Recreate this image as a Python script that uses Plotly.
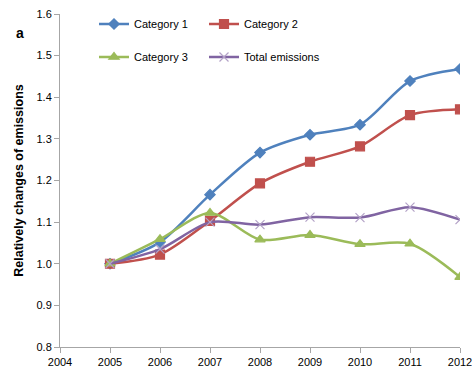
import plotly.graph_objects as go

years = [2005, 2006, 2007, 2008, 2009, 2010, 2011, 2012]
category_1 = [1.000, 1.052, 1.166, 1.267, 1.310, 1.334, 1.439, 1.468]
category_2 = [1.000, 1.022, 1.103, 1.193, 1.245, 1.282, 1.357, 1.371]
category_3 = [1.000, 1.059, 1.122, 1.058, 1.069, 1.047, 1.048, 0.968]
total_emissions = [1.000, 1.035, 1.100, 1.094, 1.112, 1.111, 1.136, 1.106]

# name, values, line colour, marker symbol, marker size, marker colour, legend id
series = [
    ("Category 1", category_1, "#4F81BD", "diamond", 8, "#4F81BD", "legend"),
    ("Category 2", category_2, "#C0504D", "square", 9, "#C0504D", "legend2"),
    ("Category 3", category_3, "#9BBB59", "triangle-up", 9, "#9BBB59", "legend3"),
    ("Total emissions", total_emissions, "#8064A2", "x-thin", 9, "#B3A2C7", "legend4"),
]

fig = go.Figure()
for name, vals, color, symbol, size, mcolor, leg in series:
    fig.add_trace(go.Scatter(
        x=years, y=vals, name=name, mode="lines+markers",
        line=dict(color=color, width=2.5, shape="spline", smoothing=0.8),
        marker=dict(symbol=symbol, size=size, color=mcolor,
                    line=dict(color=mcolor, width=1.2)),
        legend=leg, showlegend=True,
    ))

FAMILY = "Liberation Sans, Arial, sans-serif"
font = dict(family=FAMILY, size=11, color="#000000")
leg_common = dict(orientation="h", xanchor="left", yanchor="middle",
                  font=dict(family=FAMILY, size=11, color="#000"),
                  bgcolor="rgba(0,0,0,0)", itemwidth=30)

W, H = 472, 369
l, r, t, b = 60, 12, 14, 22
pw, ph = W - l - r, H - t - b

col1, col2 = 0.085, 0.36
row1, row2 = 0.970, 0.871

fig.update_layout(
    width=W, height=H,
    showlegend=True,
    margin=dict(l=l, r=r, t=t, b=b, autoexpand=False),
    paper_bgcolor="white", plot_bgcolor="white",
    font=font,
    legend=dict(x=col1, y=row1, **leg_common),
    legend2=dict(x=col2, y=row1, **leg_common),
    legend3=dict(x=col1, y=row2, **leg_common),
    legend4=dict(x=col2, y=row2, **leg_common),
    xaxis=dict(range=[2004, 2012], dtick=1, tick0=2004, showgrid=False,
               showline=True, linecolor="#A6A6A6", linewidth=1,
               ticks="outside", ticklen=5, tickcolor="#A6A6A6",
               zeroline=False, tickfont=font, automargin=False,
               ticklabeloverflow="allow"),
    yaxis=dict(range=[0.8, 1.6], dtick=0.1, tick0=0.8, tickformat=".1f",
               showgrid=False, showline=True, linecolor="#A6A6A6", linewidth=1,
               ticks="outside", ticklen=5, tickcolor="#A6A6A6",
               zeroline=False, tickfont=font, automargin=False,
               title=dict(text="<b>Relatively changes of emissions</b>",
                          font=dict(family=FAMILY, size=12.5),
                          standoff=10)),
    annotations=[dict(text="<b>a</b>", x=(20 - l) / pw, y=1 - (33 - t) / ph,
                      xref="paper", yref="paper", showarrow=False,
                      xanchor="center", yanchor="middle",
                      font=dict(family=FAMILY, size=14))],
)

fig.write_html("out.html")
